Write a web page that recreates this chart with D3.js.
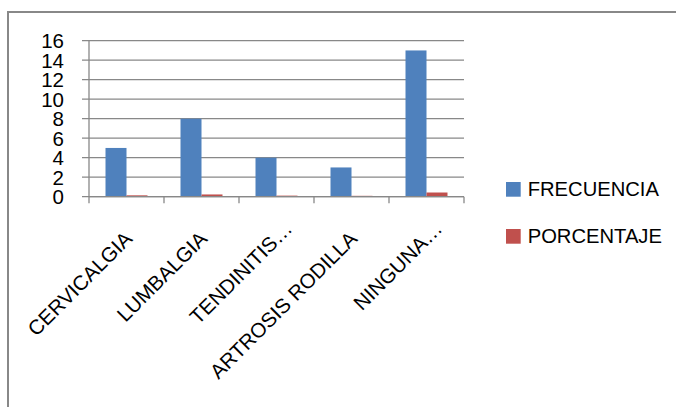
<!DOCTYPE html>
<html><head><meta charset="utf-8">
<script src="https://cdn.jsdelivr.net/npm/d3@7"></script>
<style>body{margin:0;background:#fff}svg{display:block}text{font-family:"Liberation Sans",Arial,sans-serif;fill:#000}</style>
</head><body><svg id="c" width="676" height="407"></svg>
<script>
const categories = ["CERVICALGIA","LUMBALGIA","TENDINITIS…","ARTROSIS RODILLA","NINGUNA…"];
const seriesNames = ["FRECUENCIA","PORCENTAJE"];
const frecuencia = [5, 8, 4, 3, 15];
const porcentaje = [0.14, 0.23, 0.11, 0.09, 0.43];
const yTicks = [0,2,4,6,8,10,12,14,16];
const colors = ["#4F81BD","#C0504D"];

const svg = d3.select("#c");
const grid = "#888888";
svg.append("rect").attr("x",8).attr("y",12).attr("width",720).attr("height",460)
  .attr("fill","#fff").attr("stroke",grid).attr("stroke-width",2);

const L=89, R=464, T=40.7, B=196.7;
const x = d3.scaleBand().domain(categories).range([L,R]).padding(0);
const x1 = d3.scaleBand().domain(seriesNames).range([0,x.bandwidth()]).paddingInner(0).paddingOuter(0.786);
const y = d3.scaleLinear().domain([0,16]).range([B,T]);

// gridlines
svg.append("g").selectAll("line").data(yTicks).join("line")
  .attr("x1",L-7).attr("x2",R).attr("y1",d=>y(d)).attr("y2",d=>y(d))
  .attr("stroke",grid).attr("stroke-width",1.3);

// y labels
svg.append("g").selectAll("text").data(yTicks).join("text")
  .attr("x",64).attr("y",d=>y(d)).attr("dy","0.36em").attr("text-anchor","end")
  .attr("font-size",20.5).text(d=>d);

// bars
const values = [frecuencia, porcentaje];
seriesNames.forEach((s,i)=>{
  svg.append("g").selectAll("rect").data(categories).join("rect")
    .attr("x",c=>x(c)+x1(s)).attr("width",x1.bandwidth())
    .attr("y",(c,j)=>y(values[i][j])).attr("height",(c,j)=>B-y(values[i][j]))
    .attr("fill",colors[i]);
});

// axes lines
svg.append("line").attr("x1",L).attr("x2",L).attr("y1",T).attr("y2",B).attr("stroke",grid).attr("stroke-width",1.3);
svg.append("line").attr("x1",L).attr("x2",R).attr("y1",B).attr("y2",B).attr("stroke",grid).attr("stroke-width",1.3);
const tickPos = categories.map(c=>x(c)).concat([R]);
svg.append("g").selectAll("line").data(tickPos).join("line")
  .attr("x1",d=>d).attr("x2",d=>d).attr("y1",B).attr("y2",B+6.5).attr("stroke",grid).attr("stroke-width",1.3);

// x labels
svg.append("g").selectAll("text").data(categories).join("text")
  .attr("text-anchor","end").attr("font-size",20.5)
  .attr("transform",c=>`translate(${x(c)+x.bandwidth()/2+7},240) rotate(-45)`)
  .attr("dx",c=>c.endsWith("…")?14:0)
  .text(c=>c);

// legend
const lg = svg.append("g").selectAll("g").data(seriesNames).join("g")
  .attr("transform",(d,i)=>`translate(506,${182+i*47})`);
lg.append("rect").attr("width",14.7).attr("height",14.7).attr("fill",(d,i)=>colors[i]);
lg.append("text").attr("x",21.7).attr("y",13.8).attr("font-size",20.2).text(d=>d);
</script></body></html>
